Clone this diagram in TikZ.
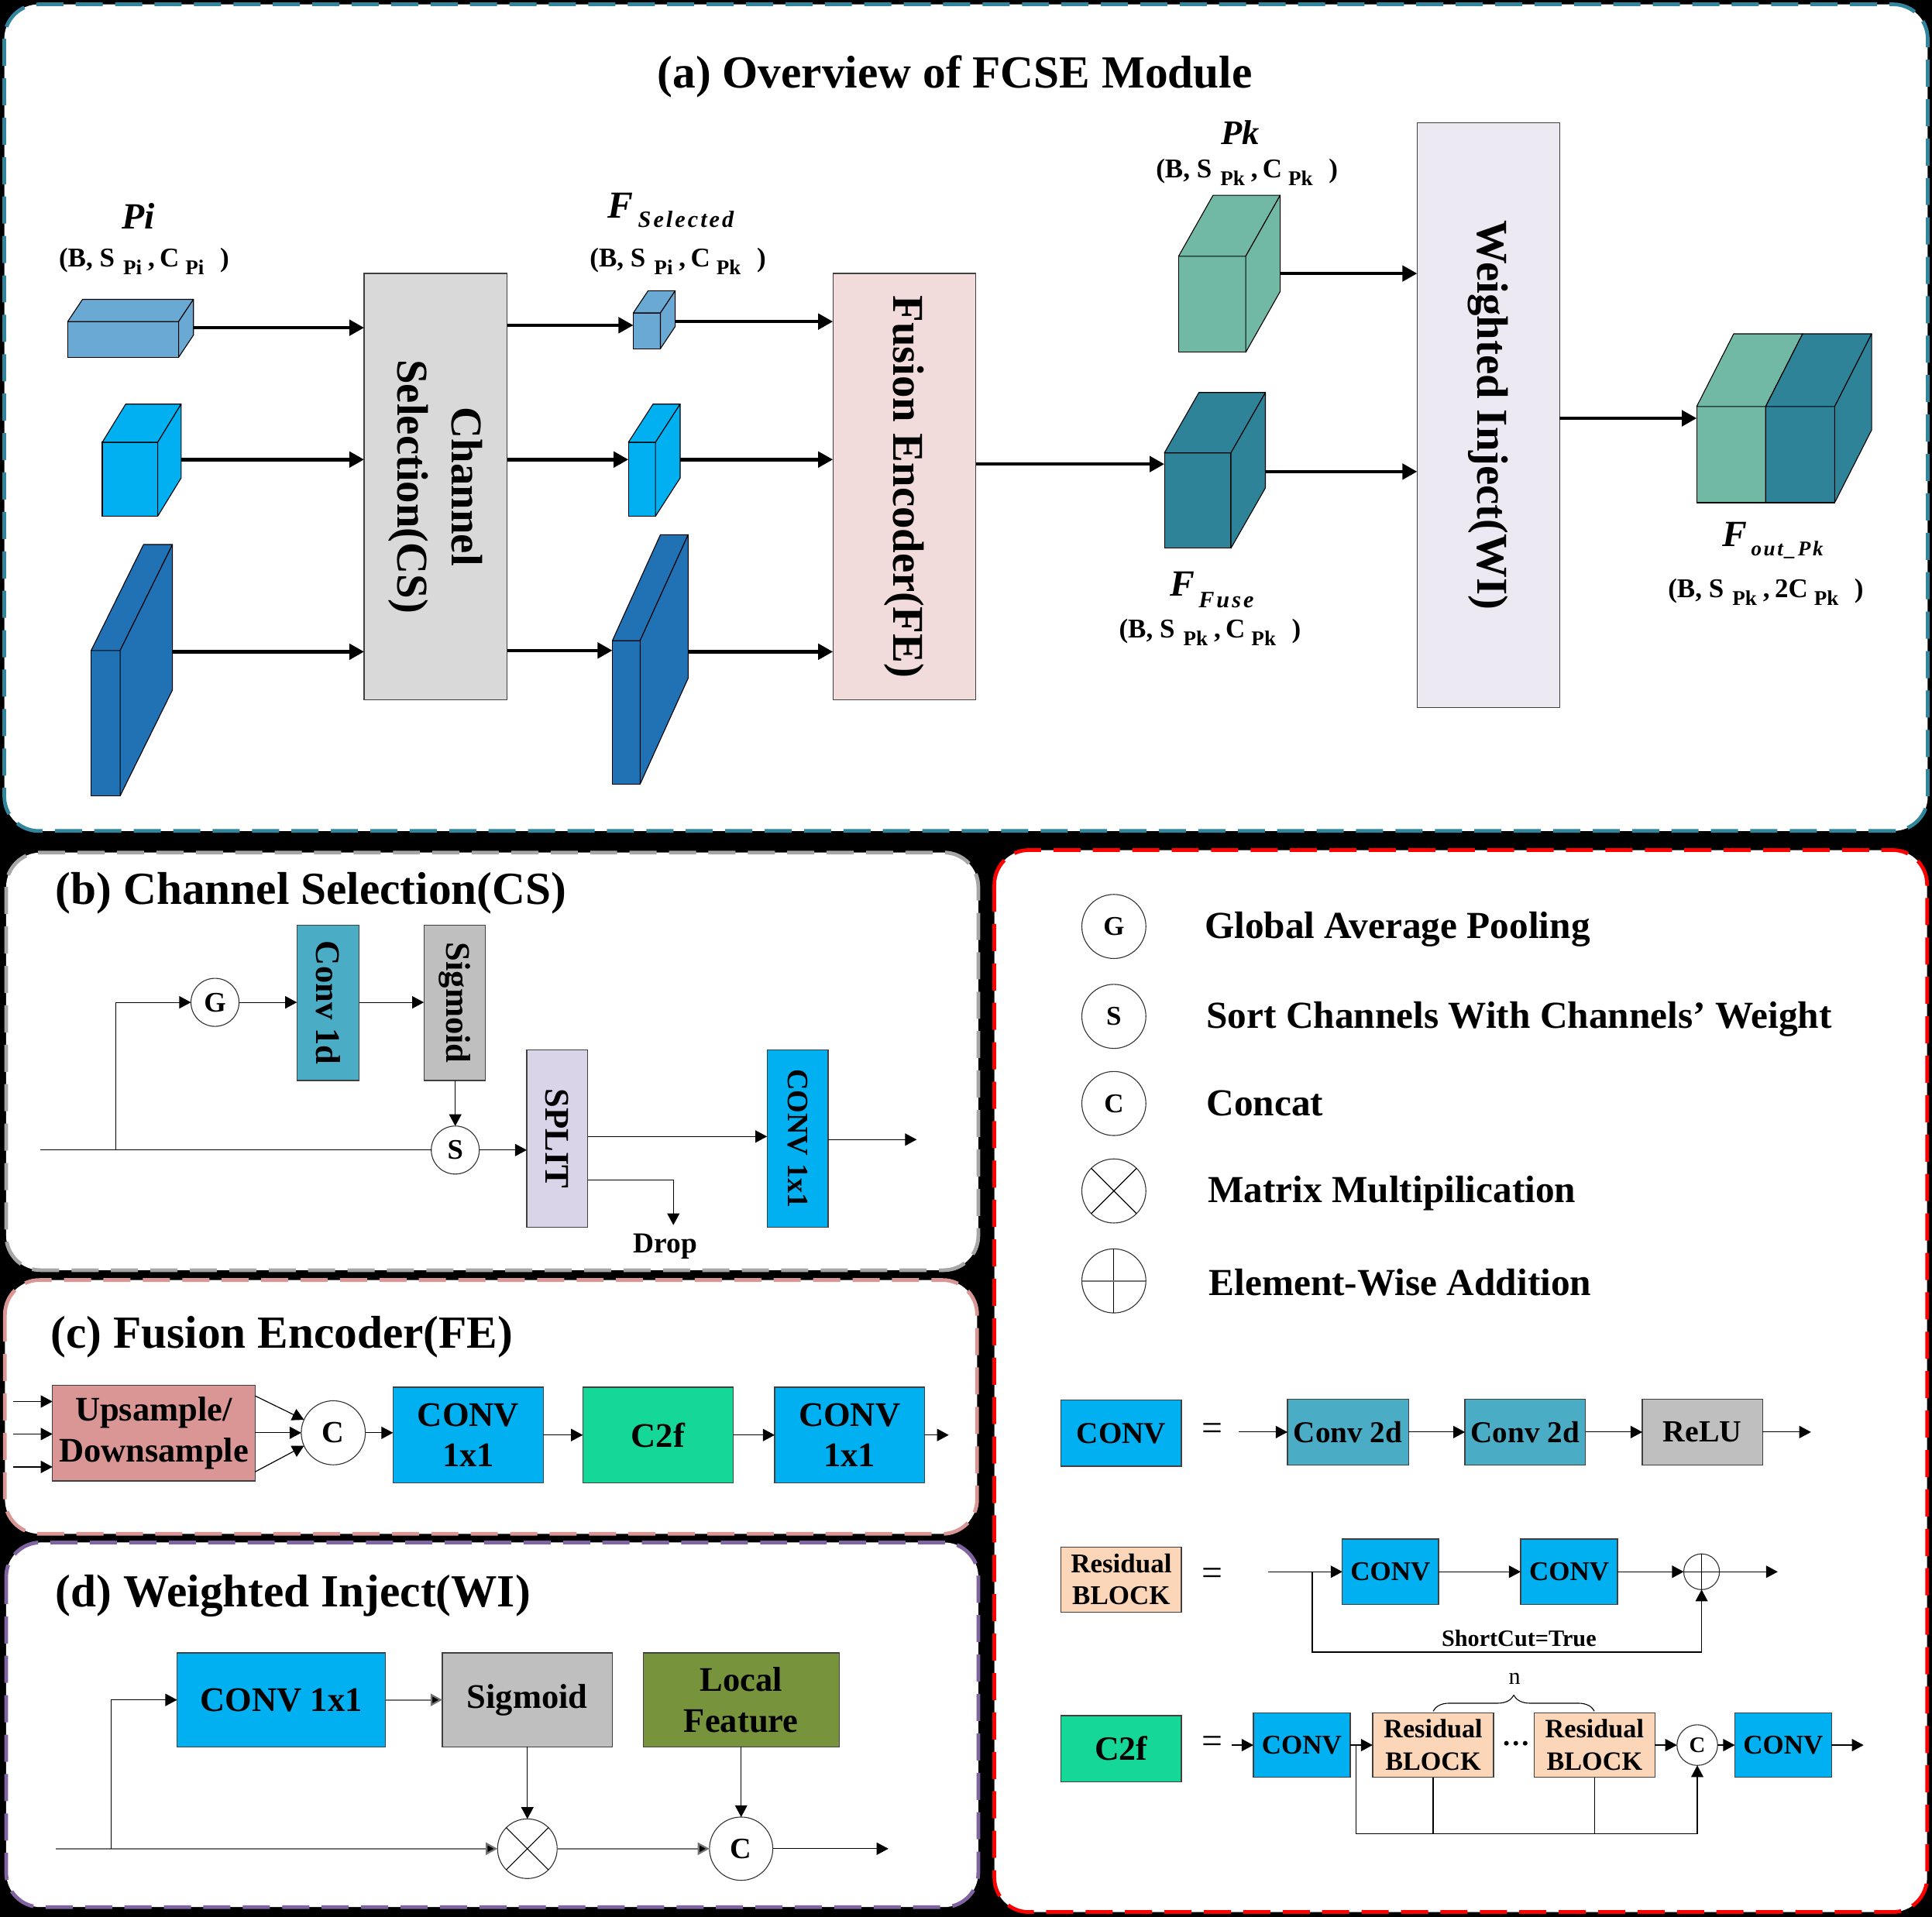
\documentclass[tikz,border=0pt]{standalone}
\usepackage{fontspec}
\setmainfont{Liberation Serif}
\usetikzlibrary{arrows.meta,calc,decorations.pathreplacing}
\definecolor{tealb}{RGB}{49,133,156}
\definecolor{grayb}{RGB}{166,166,166}
\definecolor{pinkb}{RGB}{217,150,148}
\definecolor{purpb}{RGB}{128,100,162}
\definecolor{redb}{RGB}{255,0,0}
\definecolor{lblue}{RGB}{106,169,212}
\definecolor{cyanc}{RGB}{0,176,240}
\definecolor{dblue}{RGB}{33,113,181}
\definecolor{csgray}{RGB}{217,217,217}
\definecolor{fepink}{RGB}{242,220,219}
\definecolor{wilav}{RGB}{236,233,242}
\definecolor{pkgreen}{RGB}{114,185,165}
\definecolor{fusec}{RGB}{46,131,153}
\definecolor{convod}{RGB}{75,172,198}
\definecolor{sigg}{RGB}{191,191,191}
\definecolor{splitc}{RGB}{218,212,232}
\definecolor{upsc}{RGB}{218,150,148}
\definecolor{ctwof}{RGB}{21,216,152}
\definecolor{localc}{RGB}{119,147,60}
\definecolor{resc}{RGB}{251,214,184}
\newcommand{\fsz}[2]{\fontsize{#1}{#2}\selectfont}
\newcommand{\sbs}[1]{\raisebox{-6.5pt}{\fontsize{17}{17}\selectfont #1}}
\newcommand{\dimlab}[3]{(B, S\hspace{7pt}\sbs{#1}\hspace{5pt},\hspace{4pt}#3C\hspace{5pt}\sbs{#2}\hspace{13pt})}
\newcommand{\mkcube}[8]{%
  \node[cubef, fill=#8, minimum width=#4, minimum height=#5] (#1) at (#2,#3) {};
  \filldraw[cubel, fill=#8] (#1.north west) -- ++(#6,#7) -- ($(#1.north east)+(#6,#7)$) -- (#1.north east) -- cycle;
  \filldraw[cubel, fill=#8] (#1.north east) -- ++(#6,#7) -- ($(#1.south east)+(#6,#7)$) -- (#1.south east) -- cycle;
}
\begin{document}
\begin{tikzpicture}[x=1pt,y=-1pt,
  panel/.style={line width=3, dash pattern=on 22 off 10, fill=white, rounded corners=28},
  bigarr/.style={line width=2.8, -{Triangle[length=12,width=12.6]}},
  arr/.style={line width=0.75, -{Triangle[length=9.5,width=10]}},
  garr/.style={line width=1.4, draw=black!55, -{Triangle[length=9.5,width=10,fill=black]}},
  ln/.style={line width=0.75},
  box/.style={draw=black!75, line width=0.8, inner sep=0, outer sep=0, align=center},
  bigtxt/.style={rotate=-90, align=center, inner sep=0, font=\bfseries\fsz{35.7}{44}},
  rtxt/.style={rotate=-90, align=center, inner sep=0, font=\bfseries\fsz{28}{30}},
  circ/.style={circle, draw=black!80, line width=0.7, inner sep=0, outer sep=0, fill=white},
  cubef/.style={draw=black, line width=0.7, inner sep=0, outer sep=0},
  cubel/.style={draw=black, line width=0.7, line join=round},
  title/.style={anchor=base west, inner sep=0, font=\bfseries\fsz{37.3}{40}},
  dims/.style={anchor=base west, inner sep=0, font=\bfseries\fsz{22}{22}},
  ltxt/.style={anchor=base west, inner sep=0, font=\bfseries\fsz{31}{34}},
]
\useasboundingbox (0,0) rectangle (1568,1556);
\fill[black] (0,0) rectangle (1568,1556);

% ---------------- panels
\draw[panel, draw=tealb] (3.5,3.5) rectangle (1564.5,674.5);
\draw[panel, draw=grayb] (5,692) rectangle (794,1031);
\draw[panel, draw=pinkb] (4,1039) rectangle (793,1245);
\draw[panel, draw=purpb] (5,1252) rectangle (794,1548);
\draw[panel, draw=redb] (807,690) rectangle (1564,1552);

% ================= (a) =================
\node[anchor=base, inner sep=0, font=\bfseries\fsz{37.3}{40}] (ta) at (775,71.4) {(a) Overview of FCSE Module};

\mkcube{p1}{100}{275.5}{90}{29}{12}{-18}{lblue}
\mkcube{p2}{105.5}{389}{45}{60}{19}{-31}{cyanc}
\mkcube{p3}{85.75}{587}{23.5}{118}{42.5}{-86}{dblue}
\mkcube{f1}{525}{268.5}{22}{29}{12}{-18}{lblue}
\mkcube{f2}{521}{389}{22}{60}{20}{-31}{cyanc}
\mkcube{f3}{508.25}{578.25}{22.5}{116.5}{39}{-86}{dblue}
\mkcube{pk}{983.75}{247}{54.5}{78}{28}{-49.5}{pkgreen}
\mkcube{fu}{972}{406.3}{54}{77.4}{28}{-49}{fusec}
\mkcube{oL}{1405}{369}{56}{78}{30}{-59}{pkgreen}
\mkcube{oR}{1461}{369}{56}{78}{30}{-59}{fusec}

\node[box, fill=csgray, minimum width=116, minimum height=346] (cs) at (353.5,395) {};
\node[bigtxt] (cst) at (cs.center) {Channel\\Selection(CS)};
\node[box, fill=fepink, minimum width=116, minimum height=346] (fe) at (734,395) {};
\node[bigtxt] (fet) at (fe.center) {Fusion Encoder(FE)};
\node[box, fill=wilav, minimum width=115.7, minimum height=474.4] (wi) at (1208,337) {};
\node[bigtxt] (wit) at (wi.center) {Weighted Inject(WI)};

\coordinate (p1o) at (157,266);
\coordinate (p2o) at (147,373);
\coordinate (p3o) at (140,529);
\draw[bigarr] (p1o) -- (p1o -| cs.west);
\draw[bigarr] (p2o) -- (p2o -| cs.west);
\draw[bigarr] (p3o) -- (p3o -| cs.west);
\coordinate (c1) at (411.5,264);
\coordinate (c2) at (411.5,373);
\coordinate (c3) at (411.5,528);
\draw[bigarr] (c1) -- (c1 -| f1.west);
\draw[bigarr] (c2) -- (c2 -| f2.west);
\draw[bigarr] (c3) -- (c3 -| f3.west);
\coordinate (f1o) at (548,261);
\coordinate (f2o) at (552,373);
\coordinate (f3o) at (558.5,529);
\draw[bigarr] (f1o) -- (f1o -| fe.west);
\draw[bigarr] (f2o) -- (f2o -| fe.west);
\draw[bigarr] (f3o) -- (f3o -| fe.west);
\coordinate (feo) at (792,376.7);
\draw[bigarr] (feo) -- (feo -| fu.west);
\coordinate (fuo) at (1027,382.8);
\draw[bigarr] (fuo) -- (fuo -| wi.west);
\coordinate (pko) at (1039,222);
\draw[bigarr] (pko) -- (pko -| wi.west);
\coordinate (wio) at (1265.7,339.5);
\draw[bigarr] (wio) -- (wio -| oL.west);

\node[anchor=base west, inner sep=0, font=\bfseries\itshape\fsz{30}{30}] (lpi) at (99,186) {Pi};
\node[dims] (dpi) at (47.6,216.5) {\dimlab{Pi}{Pi}{}};
\node[anchor=base west, inner sep=0, font=\bfseries\itshape\fsz{31}{31}] (lfs) at (493,176.7) {F\hspace{4pt}\raisebox{-8pt}{\fsz{19}{19}\addfontfeature{LetterSpace=10}Selected}};
\node[dims] (dfs) at (478.5,216.5) {\dimlab{Pi}{Pk}{}};
\node[anchor=base west, inner sep=0, font=\bfseries\itshape\fsz{28}{28}] (lpk) at (991,117) {Pk};
\node[dims] (dpk) at (938,144) {\dimlab{Pk}{Pk}{}};
\node[anchor=base west, inner sep=0, font=\bfseries\itshape\fsz{30}{30}] (lfu) at (949.6,484) {F\hspace{3pt}\raisebox{-9pt}{\fsz{19}{19}\addfontfeature{LetterSpace=10}Fuse}};
\node[dims] (dfu) at (908,517.5) {\dimlab{Pk}{Pk}{}};
\node[anchor=base west, inner sep=0, font=\bfseries\itshape\fsz{30}{30}] (lfo) at (1398,443.8) {F\hspace{3pt}\raisebox{-7pt}{\fsz{17}{17}\addfontfeature{LetterSpace=10}out\_Pk}};
\node[dims] (dfo) at (1353.6,485) {\dimlab{Pk}{Pk}{2}};

% ================= (b) =================
\node[title] (tb) at (45,734.3) {(b) Channel Selection(CS)};
\node[circ, minimum size=39, font=\bfseries\fsz{23}{23}] (gG) at (174.5,813.6) {G};
\node[box, fill=convod, minimum width=50.5, minimum height=126] (cod) at (266.25,814) {};
\node[rtxt] (codt) at (cod.center) {Conv 1d};
\node[box, fill=sigg, minimum width=50, minimum height=126] (sgb) at (369,814) {};
\node[rtxt] (sgbt) at (sgb.center) {Sigmoid};
\node[box, fill=splitc, minimum width=49.5, minimum height=144] (spl) at (452.25,924) {};
\node[rtxt] (splt) at (spl.center) {SPLIT};
\node[box, fill=cyanc, minimum width=49.5, minimum height=144] (cvb) at (647.25,924) {};
\node[rtxt, font=\bfseries\fsz{24}{26}] (cvbt) at (cvb.center) {CONV 1x1};
\node[circ, minimum size=39, font=\bfseries\fsz{23}{23}] (sS) at (369.5,933.5) {S};
\node[anchor=base, inner sep=0, font=\bfseries\fsz{23.5}{24}] (drop) at (540,1017) {Drop};

\coordinate (bin) at (33,933.5);
\coordinate (bbr) at (94,933.5);
\draw[ln] (bin) -- (sS.west);
\draw[arr] (bbr) |- (gG.west);
\draw[arr] (gG.east) -- (gG.east -| cod.west);
\draw[arr] (cod.east |- gG.east) -- (sgb.west |- gG.east);
\draw[arr] (sgb.south -| sS.north) -- (sS.north);
\draw[arr] (sS.east) -- (sS.east -| spl.west);
\coordinate (spa) at (477,922.5);
\draw[arr] (spa) -- (spa -| cvb.west);
\coordinate (spb) at (477,958);
\coordinate (dropin) at (546.5,994.4);
\draw[arr] (spb) -| (dropin);
\coordinate (cvbo) at (672,925);
\coordinate (cvbe) at (744,925);
\draw[arr] (cvbo) -- (cvbe);

% ================= (c) =================
\node[title] (tc) at (41,1094) {(c) Fusion Encoder(FE)};
\node[box, fill=upsc, minimum width=164.4, minimum height=77.4, font=\bfseries\fsz{28}{33}] (ups) at (124.8,1163.3) {Upsample/\\Downsample};
\node[circ, minimum size=52, font=\bfseries\fsz{25}{25}] (cC) at (270.5,1163) {C};
\node[box, fill=cyanc, minimum width=122, minimum height=77.6, font=\bfseries\fsz{28}{33}] (cv1) at (380,1164.8) {CONV\\1x1};
\node[box, fill=ctwof, minimum width=122, minimum height=77.6, font=\bfseries\fsz{28}{33}] (c2) at (534,1164.8) {C2f};
\node[box, fill=cyanc, minimum width=121.6, minimum height=77.6, font=\bfseries\fsz{28}{33}] (cv2) at (689.5,1164.8) {CONV\\1x1};
\coordinate (ui1) at (11,1137.6);
\coordinate (ui2) at (11,1164);
\coordinate (ui3) at (11,1190.7);
\draw[arr] (ui1) -- (ui1 -| ups.west);
\draw[arr] (ui2) -- (ui2 -| ups.west);
\draw[arr] (ui3) -- (ui3 -| ups.west);
\coordinate (uo1) at (207,1133);
\coordinate (uo3) at (207,1194.7);
\draw[arr] (uo1) -- (cC.156);
\draw[arr] (ups.east |- cC.west) -- (cC.west);
\draw[arr] (uo3) -- (cC.204);
\draw[arr] (cC.east) -- (cC.east -| cv1.west);
\draw[arr] (cv1.east) -- (c2.west);
\draw[arr] (c2.east) -- (cv2.west);
\coordinate (cvo) at (770,1164.8);
\draw[arr] (cv2.east) -- (cvo);

% ================= (d) =================
\node[title] (td) at (45,1304.5) {(d) Weighted Inject(WI)};
\node[box, fill=cyanc, minimum width=169.3, minimum height=76.4, font=\bfseries\fsz{28}{33}] (dcv) at (228.35,1379.8) {CONV 1x1};
\node[box, fill=sigg, minimum width=138, minimum height=76.4, font=\bfseries\fsz{28}{33}] (dsg) at (428,1379.8) {Sigmoid};
\node[box, fill=localc, minimum width=159, minimum height=76.4, font=\bfseries\fsz{28}{33.6}] (dlf) at (601.5,1379.8) {Local\\Feature};
\node[circ, minimum size=48.4] (dmul) at (428,1500.6) {};
\draw[line width=0.7] (dmul.45) -- (dmul.225) (dmul.135) -- (dmul.315);
\node[circ, minimum size=51.4, font=\bfseries\fsz{24}{24}] (dC) at (601.5,1500.6) {C};
\coordinate (din) at (45,1500.6);
\coordinate (dbr) at (90,1500.6);
\draw[garr] (din) -- (dmul.west);
\draw[arr, line width=0.7] (dbr) |- (dcv.west);
\draw[garr] (dcv.east |- dsg.west) -- (dsg.west);
\draw[arr, line width=0.7] (dsg.south) -- (dmul.north);
\draw[arr, line width=0.7] (dlf.south) -- (dC.north);
\draw[garr] (dmul.east) -- (dC.west);
\coordinate (dout) at (721,1500.6);
\draw[arr] (dC.east) -- (dout);

% ================= legend =================
\node[circ, minimum size=52, font=\bfseries\fsz{22}{22}] (lg) at (904,752) {G};
\node[circ, minimum size=52, font=\bfseries\fsz{22}{22}] (ls) at (904,825) {S};
\node[circ, minimum size=52, font=\bfseries\fsz{22}{22}] (lc) at (904,895.7) {C};
\node[circ, minimum size=52] (lm) at (904,966.7) {};
\draw[line width=0.7] (lm.45) -- (lm.225) (lm.135) -- (lm.315);
\node[circ, minimum size=52] (lp) at (904,1039.7) {};
\draw[line width=0.7] (lp.north) -- (lp.south);
\draw[line width=1.3, draw=black!55] (lp.west) -- (lp.east);
\node[ltxt] (tg) at (977.5,761.8) {Global Average Pooling};
\node[ltxt] (tsx) at (979,834.8) {Sort Channels With Channels’ Weight};
\node[ltxt] (tcx) at (979,905.8) {Concat};
\node[ltxt] (tmx) at (980,976.3) {Matrix Multipilication};
\node[ltxt] (tpx) at (981,1051.8) {Element-Wise Addition};

% CONV row
\node[box, fill=cyanc, minimum width=97.7, minimum height=53.6, font=\bfseries\fsz{24.6}{28}] (lcv) at (910,1163.4) {CONV};
\node[inner sep=0, font=\fsz{30}{30}] (eq1) at (984,1162.4) {=};
\node[box, fill=convod, minimum width=98.2, minimum height=53.3, font=\bfseries\fsz{24.6}{28}] (cd1) at (1094,1162.4) {Conv 2d};
\node[box, fill=convod, minimum width=97.7, minimum height=53.3, font=\bfseries\fsz{24.6}{28}] (cd2) at (1237.8,1162.4) {Conv 2d};
\node[box, fill=sigg, minimum width=97.7, minimum height=53.3, font=\bfseries\fsz{25}{28}] (relu) at (1381.75,1162.4) {ReLU};
\coordinate (cvin) at (1005.5,1162.4);
\draw[arr] (cvin) -- (cd1.west);
\draw[arr] (cd1.east) -- (cd2.west);
\draw[arr] (cd2.east) -- (relu.west);
\coordinate (reo) at (1469.8,1162.4);
\draw[arr] (relu.east) -- (reo);

% Residual row
\node[box, fill=resc, minimum width=97.7, minimum height=53, font=\bfseries\fsz{22}{26}] (lrb) at (910,1282.1) {Residual\\BLOCK};
\node[inner sep=0, font=\fsz{30}{30}] (eq2) at (984,1280) {=};
\node[box, fill=cyanc, minimum width=78.1, minimum height=53, font=\bfseries\fsz{22}{26}] (ra) at (1128.5,1275.8) {CONV};
\node[box, fill=cyanc, minimum width=78.6, minimum height=53, font=\bfseries\fsz{22}{26}] (rb) at (1273.5,1275.8) {CONV};
\node[circ, minimum size=29] (rp) at (1381,1275.8) {};
\draw[line width=0.7] (rp.north) -- (rp.south) (rp.west) -- (rp.east);
\coordinate (rin) at (1029,1275.8);
\coordinate (rsc) at (1065,1275.8);
\coordinate (rscb) at (1065,1341);
\draw[arr] (rin) -- (ra.west);
\draw[arr] (ra.east) -- (rb.west);
\draw[arr] (rb.east) -- (rp.west);
\coordinate (rpo) at (1442.8,1275.8);
\draw[arr] (rp.east) -- (rpo);
\draw[arr, line width=0.7] (rsc) -- (rscb) -| (rp.south);
\node[anchor=base, inner sep=0, font=\bfseries\fsz{19}{20}] (scut) at (1232.8,1336) {ShortCut=True};

% C2f row
\node[box, fill=ctwof, minimum width=97.7, minimum height=53.6, font=\bfseries\fsz{27.6}{30}] (lc2) at (910,1419.4) {C2f};
\node[inner sep=0, font=\fsz{30}{30}] (eq3) at (984,1416) {=};
\node[box, fill=cyanc, minimum width=78.5, minimum height=52.5, font=\bfseries\fsz{22}{26}] (cc1) at (1056.5,1416.5) {CONV};
\node[box, fill=resc, minimum width=98.2, minimum height=52.5, font=\bfseries\fsz{21.5}{26.4}] (rb1) at (1163.1,1416.5) {Residual\\BLOCK};
\node[box, fill=resc, minimum width=98.2, minimum height=52.5, font=\bfseries\fsz{21.5}{26.4}] (rb2) at (1294.1,1416.5) {Residual\\BLOCK};
\fill[black] (1222.6,1415) circle (1.9) (1230.2,1415) circle (1.9) (1237.8,1415) circle (1.9);
\node[circ, minimum size=33, font=\bfseries\fsz{18}{18}] (ccC) at (1377.5,1416.5) {C};
\node[box, fill=cyanc, minimum width=78.5, minimum height=52.5, font=\bfseries\fsz{22}{26}] (cc2) at (1447.25,1416.5) {CONV};
\coordinate (ccin) at (999.6,1416.5);
\draw[arr] (ccin) -- (cc1.west);
\draw[arr] (cc1.east) -- (rb1.west);
\draw[arr] (rb2.east) -- (ccC.west);
\draw[arr] (ccC.east) -- (cc2.west);
\coordinate (cco) at (1512.5,1416.5);
\draw[arr] (cc2.east) -- (cco);
\coordinate (bus0) at (1100.7,1416.5);
\coordinate (bus1) at (1100.7,1488.7);
\draw[arr, line width=0.7] (bus0) -- (bus1) -| (ccC.south);
\draw[line width=0.7] (rb1.south) -- (rb1.south |- bus1);
\draw[line width=0.7] (rb2.south) -- (rb2.south |- bus1);
\draw[line width=0.7, decorate, decoration={brace, amplitude=13}] (rb1.north |- 0,1389) -- (1294,1389);
\node[anchor=base, inner sep=0, font=\fsz{19}{20}] (nn) at (1229.3,1367) {n};

\end{tikzpicture}
\end{document}
